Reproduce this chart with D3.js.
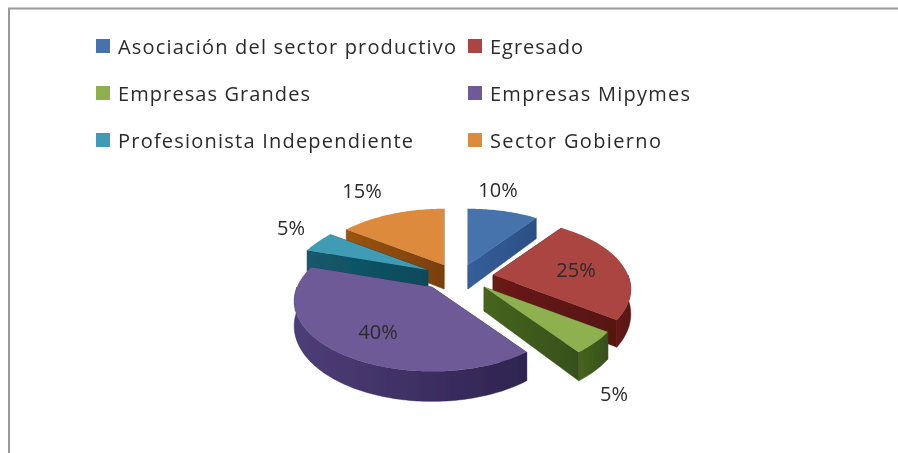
<!DOCTYPE html>
<html><head><meta charset="utf-8">
<script src="https://cdn.jsdelivr.net/npm/d3@7"></script>
<style>html,body{margin:0;padding:0;background:#fff}svg{display:block}</style>
</head><body>
<svg id="c" width="898" height="453"></svg>
<script>
const categories = ["Asociación del sector productivo","Egresado","Empresas Grandes","Empresas Mipymes","Profesionista Independiente","Sector Gobierno"];
const values = [10,25,5,40,5,15];
const topColors = ["#4773ad","#aa4543","#8fb04f","#6d5a97","#409bb5","#dd8a3e"];
const sideLight = ["#345e9a","#6a1a18","#46651f","#4e3d78","#13596c","#9a5412"];
const sideDark  = ["#2c4f85","#561311","#37501a","#2e2450","#0e4a5c","#7a3f0c"];
const explodeX = [10,35,26,-26,-30,-14];
const explodeY = [-15,-5,7,7,-10,-15];
const labelDX = [30,83,130,-54,-137,-82];
const labelDY = [-68,2,114,52,-35,-67];
const drawOrder = [0,5,4,1,2,3];
const legendTextWidths = [338,93,192,200,295,171];

const W=898,H=453, cx=458, cy=280, R=135, tilt=0.5, persp=675, depth=24;
const svg=d3.select("#c");
const defs=svg.append("defs");
defs.append("filter").attr("id","soft").append("feGaussianBlur").attr("stdDeviation",0.5);
values.forEach((_,i)=>{
  const g=defs.append("linearGradient").attr("id","side"+i).attr("x1",0).attr("x2",1).attr("y1",0).attr("y2",0);
  g.append("stop").attr("offset","0%").attr("stop-color",sideLight[i]);
  g.append("stop").attr("offset","100%").attr("stop-color",sideDark[i]);
});
svg.append("rect").attr("width",W).attr("height",H).attr("fill","#fff");
svg.append("path").attr("d","M9 453V8.5H898").attr("fill","none").attr("stroke","#9a9a9a").attr("stroke-width",2);

const pie=d3.pie().sort(null).value(d=>d).startAngle(0).endAngle(2*Math.PI);
const arcs=pie(values);
const line=d3.line().x(d=>d[0]).y(d=>d[1]);
const close=pts=>line(pts)+"Z";

function rim(i,a,z){
  const u=R*Math.sin(a), v=R*Math.cos(a), p=1/(1+v/persp);
  return [cx+explodeX[i]+u*p, cy+explodeY[i]-tilt*v*p+z*depth*p];
}
function apex(i,z){ return [cx+explodeX[i], cy+explodeY[i]+z*depth]; }
function arcAngles(a0,a1){
  const n=Math.max(4,Math.ceil((a1-a0)/0.02));
  return d3.range(n+1).map(k=>a0+(a1-a0)*k/n);
}
const pieG=svg.append("g").attr("filter","url(#soft)");
drawOrder.forEach(i=>{
  const d=arcs[i], g=pieG.append("g");
  const walls=[];
  walls.push([apex(i,0),rim(i,d.startAngle,0),rim(i,d.startAngle,1),apex(i,1)]);
  walls.push([apex(i,0),rim(i,d.endAngle,0),rim(i,d.endAngle,1),apex(i,1)]);
  const lo=Math.max(d.startAngle,Math.PI/2), hi=Math.min(d.endAngle,3*Math.PI/2);
  if(hi>lo){
    const as=arcAngles(lo,hi);
    walls.push([...as.map(a=>rim(i,a,0)),...as.slice().reverse().map(a=>rim(i,a,1))]);
  }
  walls.sort((a,b)=>d3.mean(a,q=>q[1])-d3.mean(b,q=>q[1]));
  walls.forEach(w=>g.append("path").attr("d",close(w)).attr("fill",`url(#side${i})`).attr("stroke",sideDark[i]).attr("stroke-width",0.5));
  const top=[apex(i,0),...arcAngles(d.startAngle,d.endAngle).map(a=>rim(i,a,0))];
  g.append("path").attr("d",close(top)).attr("fill",topColors[i]);
});

const textG=svg.append("g").attr("filter","url(#soft)").attr("font-family","'Open Sans',sans-serif").attr("fill","#2b2b2b");
values.forEach((v,i)=>{
  textG.append("text").attr("x",cx+explodeX[i]+labelDX[i]).attr("y",cy+explodeY[i]+labelDY[i])
    .attr("text-anchor","middle").attr("font-size",20).text(v+"%");
});
const colX=d3.scaleOrdinal().domain([0,1]).range([96,468]);
const rowY=d3.scalePoint().domain([0,1,2]).range([39,133]);
categories.forEach((c,i)=>{
  const col=i%2,row=Math.floor(i/2);
  textG.append("rect").attr("x",colX(col)).attr("y",rowY(row)).attr("width",14).attr("height",14).attr("fill",topColors[i]);
  textG.append("text").attr("x",colX(col)+22).attr("y",rowY(row)+15).attr("font-size",20)
    .attr("textLength",legendTextWidths[i]).attr("lengthAdjust","spacing").text(c);
});
</script>
</body></html>
